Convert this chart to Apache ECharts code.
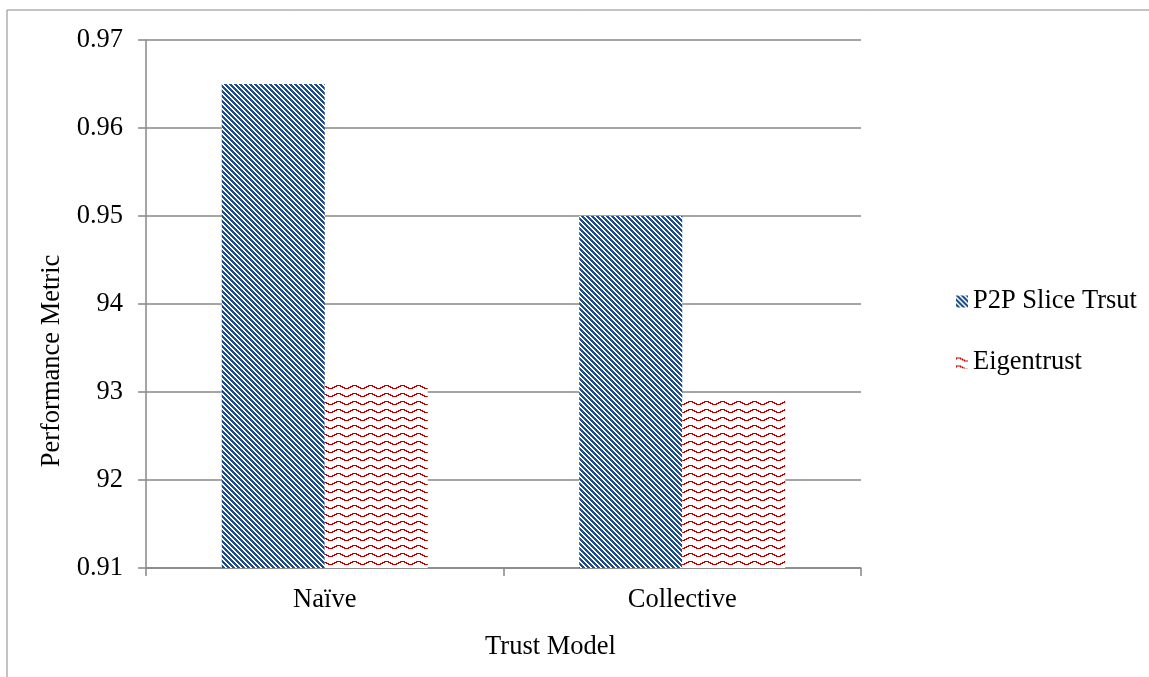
<!DOCTYPE html>
<html>
<head>
<meta charset="utf-8">
<script src="https://cdn.jsdelivr.net/npm/echarts@6/dist/echarts.min.js"></script>
<style>html,body{margin:0;padding:0;background:#fff;}#c{width:1149px;height:677px;}</style>
</head>
<body>
<div id="c"></div>
<script>
const categories = ['Naïve', 'Collective'];
const p2pValues = [0.965, 0.950];
const eigenValues = [0.931, 0.929];
const seriesNames = ['P2P Slice Trsut', 'Eigentrust'];
const yTickLabels = ['0.91', '92', '93', '94', '0.95', '0.96', '0.97'];

function makeStripe() {
  const n = 5;
  const c = document.createElement('canvas');
  c.width = n; c.height = n;
  const ctx = c.getContext('2d');
  ctx.fillStyle = '#ffffff'; ctx.fillRect(0, 0, n, n);
  ctx.fillStyle = '#1F4E8C';
  for (let y = 0; y < n; y++) for (let x = 0; x < n; x++) {
    if ((((x - y) % n) + n) % n < 3) ctx.fillRect(x, y, 1, 1);
  }
  return c;
}
function makeWave() {
  const w = 16, h = 8;
  const ys = [1, 1, 1, 1, 2, 2, 3, 3, 4, 4, 4, 4, 3, 3, 2, 2];
  const c = document.createElement('canvas');
  c.width = w; c.height = h;
  const ctx = c.getContext('2d');
  ctx.fillStyle = '#ffffff'; ctx.fillRect(0, 0, w, h);
  ctx.fillStyle = '#C00000';
  for (let x = 0; x < w; x++) {
    ctx.fillRect(x, ys[x], 1, 1);
    const prev = ys[(x + w - 1) % w];
    if (prev !== ys[x]) ctx.fillRect(x, prev, 1, 1);
  }
  return c;
}
const stripe = { image: makeStripe(), repeat: 'repeat' };
const wave = { image: makeWave(), repeat: 'repeat' };

const chart = echarts.init(document.getElementById('c'));
const font = 'Liberation Serif, Times New Roman, serif';
const fs = 26.5;
chart.setOption({
  animation: false,
  backgroundColor: '#fff',
  graphic: [{
    type: 'rect', silent: true,
    shape: { x: 7, y: 10, width: 1150, height: 680 },
    style: { fill: 'none', stroke: '#878787', lineWidth: 1 }
  }],
  grid: { left: 146, top: 40, right: 288, bottom: 109 },
  legend: {
    orient: 'vertical', left: 951, top: 283, itemGap: 34,
    itemWidth: 12, itemHeight: 12, icon: 'rect',
    textStyle: { fontFamily: font, fontSize: fs, color: '#000' },
    data: seriesNames
  },
  xAxis: {
    type: 'category', data: categories,
    name: 'Trust Model', nameLocation: 'middle', nameGap: 66,
    nameTextStyle: { fontFamily: font, fontSize: fs, color: '#000', padding: [0, 0, 0, 94] },
    axisLine: { lineStyle: { color: '#878787', width: 1.5 } },
    axisTick: { show: true, length: 8, lineStyle: { color: '#878787', width: 1.5 } },
    axisLabel: { fontFamily: font, fontSize: fs, color: '#000', margin: 19 }
  },
  yAxis: {
    type: 'value', min: 0.91, max: 0.97, interval: 0.01,
    name: 'Performance Metric', nameLocation: 'middle', nameGap: 66,
    nameTextStyle: { fontFamily: font, fontSize: fs, color: '#000', padding: [0, 114, 0, 0] },
    axisLine: { show: true, lineStyle: { color: '#878787', width: 1.5 } },
    axisTick: { show: true, length: 8, lineStyle: { color: '#878787', width: 1.5 } },
    splitLine: { show: true, lineStyle: { color: '#878787', width: 1.5 } },
    axisLabel: {
      fontFamily: font, fontSize: fs, color: '#000', margin: 23,
      formatter: function (v) { return yTickLabels[Math.round((v - 0.91) / 0.01)]; }
    }
  },
  series: [
    { name: seriesNames[0], type: 'bar', data: p2pValues, barWidth: 103, barGap: '0%',
      itemStyle: { color: stripe } },
    { name: seriesNames[1], type: 'bar', data: eigenValues, barWidth: 103, barGap: '0%',
      itemStyle: { color: wave } }
  ]
});
</script>
</body>
</html>
